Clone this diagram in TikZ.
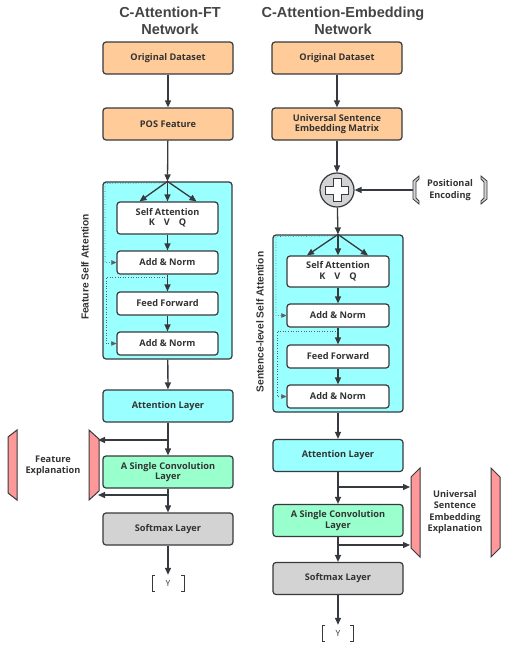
\documentclass[tikz,border=0pt]{standalone}
\usepackage{fontspec}
\setmainfont{Open Sans}
\newfontfamily\titlefont{Liberation Sans}
\usetikzlibrary{arrows.meta,calc}
\definecolor{dk}{HTML}{36393D}
\definecolor{txt}{HTML}{333333}
\definecolor{orng}{HTML}{FFCC99}
\definecolor{cyn}{HTML}{99FFFF}
\definecolor{grn}{HTML}{99FFCC}
\definecolor{gry}{HTML}{D3D3D3}
\definecolor{pnk}{HTML}{FF9999}
\definecolor{ttl}{HTML}{444444}
\tikzset{
  box/.style={draw=dk, line width=1.2pt, rounded corners=3pt, minimum width=130pt, minimum height=32pt,
    font=\bfseries\fontsize{9.2}{10.5}\selectfont, text=txt, align=center, inner sep=0pt},
  inbox/.style={box, fill=white, minimum width=101pt, minimum height=23pt},
  blockbox/.style={draw=dk, line width=1.2pt, rounded corners=3pt, fill=cyn, inner sep=0pt},
  arr/.style={draw=dk, line width=1.3pt, -{Triangle[length=7pt,width=6pt]}},
  dotarr/.style={draw=dk!80, line width=0.6pt, dotted, -{Triangle[length=5pt,width=4.5pt]}},
  titletext/.style={font=\titlefont\bfseries\fontsize{14.5}{16.5}\selectfont, text=ttl, align=center},
  rottext/.style={rotate=90, font=\titlefont\bfseries\fontsize{10.2}{11}\selectfont, text=txt},
  plaintext/.style={font=\bfseries\fontsize{9.2}{11.5}\selectfont, text=txt, align=center},
  piece/.style={draw=dk, line width=1pt, fill=pnk},
  brk/.style={draw=dk, line width=0.8pt, fill=gry},
}
\begin{document}
\begin{tikzpicture}[x=1pt,y=-1pt]
\useasboundingbox (0,0) rectangle (507,654);

% ---------- titles
\node[titletext] (t1) at (170,21) {C-Attention-FT\\Network};
\node[titletext] (t2) at (343,21) {C-Attention-Embedding\\Network};

% ---------- left column
\node[box, fill=orng] (od1) at (168,58) {Original Dataset};
\node[box, fill=orng] (pos) at (168,124) {POS Feature};
\node[blockbox, minimum width=129pt, minimum height=177pt] (blk1) at (167.5,270.5) {};
\node[inbox, minimum height=32pt] (sa1) at (167.5,218) {Self Attention\\K\hspace{9pt}V\hspace{9pt}Q};
\node[inbox] (an1a) at (167.5,262.5) {Add \& Norm};
\node[inbox] (ff1) at (167.5,303.5) {Feed Forward};
\node[inbox] (an1b) at (167.5,343.5) {Add \& Norm};
\node[rottext] (lbl1) at (85,267) {Feature Self Attention};
\node[box, fill=cyn] (att1) at (168,406) {Attention Layer};
\node[box, fill=grn] (cv1) at (168,472) {A Single Convolution\\Layer};
\node[box, fill=gry] (sm1) at (168,529) {Softmax Layer};
\node[font=\fontsize{8.5}{9}\selectfont, text=txt, minimum width=32pt, minimum height=16pt, inner sep=0pt] (y1) at (168,583) {Y};

% feature explanation
\node[plaintext] (fe) at (53,466) {Feature\\Explanation};
\draw[piece] (8,437) -- (17,430) -- (17,500) -- (8,493) -- cycle;
\draw[piece] (89,430) -- (99,439) -- (99,491) -- (89,500) -- cycle;
\coordinate (feA) at (98,440);
\coordinate (feB) at (98,495);

% connectors left
\draw[arr] (od1) -- (pos);
\draw[arr] (pos) -- (blk1.north);
\draw[arr] (blk1.north) -- ($(sa1.north)+(-28,0)$);
\draw[arr] (blk1.north) -- (sa1.north);
\draw[arr] (blk1.north) -- ($(sa1.north)+(29,0)$);
\draw[arr] (sa1) -- (an1a);
\draw[arr] (an1a) -- (ff1);
\draw[arr] (ff1) -- (an1b);
\draw[dotarr] ($(blk1.north)+(0,1.5)$) -- (105,183.5) |- (an1a.west);
\draw[dotarr] (167.5,277) -- (106,277) |- (an1b.west);
\draw[arr] (blk1) -- (att1);
\draw[arr] (att1) -- (cv1);
\draw[arr] (att1.south |- feA) -- (feA);
\draw[arr] (cv1) -- (sm1);
\draw[arr] (cv1.south |- feB) -- (feB);
\draw[arr] (sm1) -- (y1);
\draw[dk, line width=0.8pt] (155,575) -- (152,575) -- (152,591) -- (155,591);
\draw[dk, line width=0.8pt] (181,575) -- (184,575) -- (184,591) -- (181,591);

% ---------- right column
\node[box, fill=orng] (od2) at (337,58) {Original Dataset};
\node[box, fill=orng] (use) at (337,124) {Universal Sentence\\Embedding Matrix};
\node[circle, draw=dk, line width=1.2pt, fill=gry, minimum size=34pt, inner sep=0pt] (plus) at (337,190) {};
\draw[dk, line width=0.8pt, fill=white]
  (333,178.5) -- (341,178.5) -- (341,186) -- (348.5,186) -- (348.5,194) -- (341,194) -- (341,201.5)
  -- (333,201.5) -- (333,194) -- (325.5,194) -- (325.5,186) -- (333,186) -- cycle;
\node[plaintext] (pe) at (450,190) {Positional\\Encoding};
\draw[brk] (419,176) -- (413,181) -- (413,199) -- (419,204) -- (419,201) -- (416,198) -- (416,182) -- (419,179) -- cycle;
\draw[brk] (481,176) -- (487,181) -- (487,199) -- (481,204) -- (481,201) -- (484,198) -- (484,182) -- (481,179) -- cycle;
\coordinate (peL) at (413,190);

\node[blockbox, minimum width=130pt, minimum height=177pt] (blk2) at (338,323.5) {};
\node[inbox, minimum width=102pt, minimum height=31pt] (sa2) at (338,271.5) {Self Attention\\K\hspace{9pt}V\hspace{9pt}Q};
\node[inbox, minimum width=102pt] (an2a) at (338,315.5) {Add \& Norm};
\node[inbox, minimum width=102pt] (ff2) at (338,356.5) {Feed Forward};
\node[inbox, minimum width=102pt] (an2b) at (338,396.5) {Add \& Norm};
\node[rottext] (lbl2) at (260,322) {Sentence-level Self Attention};
\node[box, fill=cyn] (att2) at (338,455.5) {Attention Layer};
\node[box, fill=grn] (cv2) at (338,520.5) {A Single Convolution\\Layer};
\node[box, fill=gry] (sm2) at (338,578.5) {Softmax Layer};
\node[font=\fontsize{8.5}{9}\selectfont, text=txt, minimum width=31pt, minimum height=16pt, inner sep=0pt] (y2) at (338,633) {Y};

% universal sentence embedding explanation
\node[plaintext] (ue) at (455,512) {Universal\\Sentence\\Embedding\\Explanation};
\draw[piece] (411,477) -- (420,468) -- (420,557) -- (411,548) -- cycle;
\draw[piece] (491,468) -- (500,477) -- (500,548) -- (491,557) -- cycle;
\coordinate (ueA) at (410,487);
\coordinate (ueB) at (410,545);

% connectors right
\draw[arr] (od2) -- (use);
\draw[arr] (use) -- (plus);
\draw[arr] (peL) -- (plus);
\draw[arr] (plus) -- (blk2.north);
\draw[arr] (blk2.north) -- ($(sa2.north)+(-31,0)$);
\draw[arr] (blk2.north) -- (sa2.north);
\draw[arr] (blk2.north) -- ($(sa2.north)+(30,0)$);
\draw[arr] (sa2) -- (an2a);
\draw[arr] (an2a) -- (ff2);
\draw[arr] (ff2) -- (an2b);
\draw[dotarr] ($(blk2.north)+(0,1.5)$) -- (276,236.5) |- (an2a.west);
\draw[dotarr] (338,331) -- (277,331) |- (an2b.west);
\draw[arr] (blk2) -- (att2);
\draw[arr] (att2) -- (cv2);
\draw[arr] (att2.south |- ueA) -- (ueA);
\draw[arr] (cv2) -- (sm2);
\draw[arr] (cv2.south |- ueB) -- (ueB);
\draw[arr] (sm2) -- (y2);
\draw[dk, line width=0.8pt] (325,625) -- (322,625) -- (322,641) -- (325,641);
\draw[dk, line width=0.8pt] (350,625) -- (353,625) -- (353,641) -- (350,641);
\end{tikzpicture}
\end{document}
